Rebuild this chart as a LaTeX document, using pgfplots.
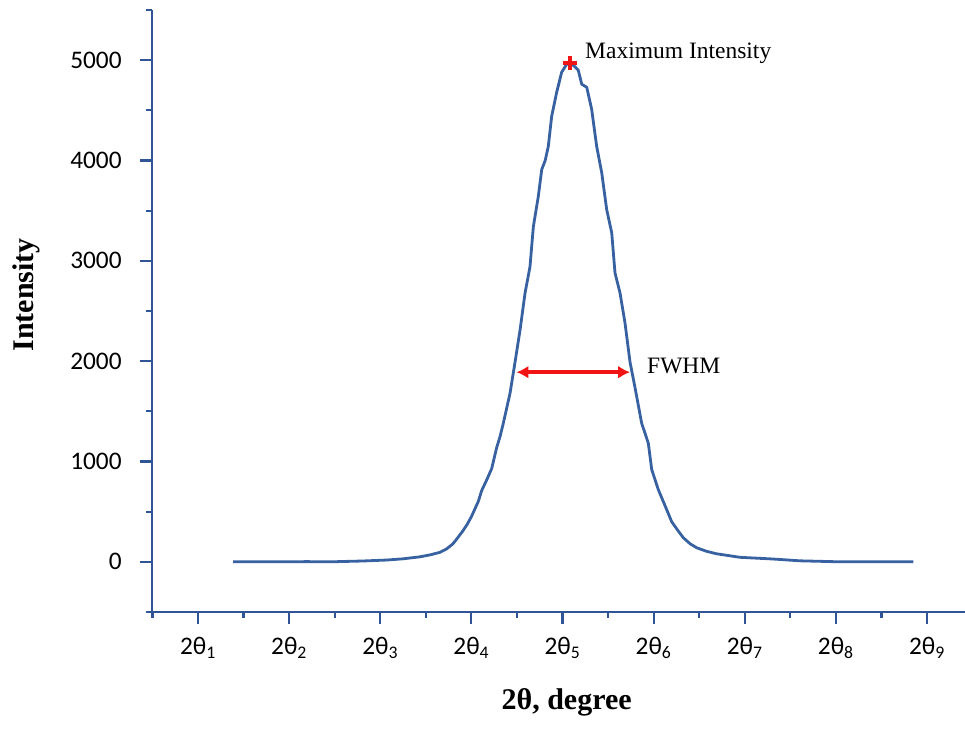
\documentclass[border=0pt]{standalone}
\usepackage{pgfplots}
\pgfplotsset{compat=1.18}
\usepackage{fontspec}
\setmainfont{Carlito}
\newfontfamily\tnr{Liberation Serif}
\newfontfamily\carl{Carlito}
\usetikzlibrary{arrows.meta}
\definecolor{axisblue}{RGB}{47,85,151}
\definecolor{curveblue}{RGB}{55,97,160}
\definecolor{markred}{RGB}{240,20,20}
\newcommand\tl[1]{2θ\textsubscript{#1}}
\begin{document}
\begin{tikzpicture}
\begin{axis}[
  name=ax,
  scale only axis,
  width=813pt, height=602pt,
  xmin=0.495, xmax=9.417,
  ymin=-500, ymax=5500,
  enlargelimits=false,
  axis lines=left,
  axis line style={-, draw=axisblue, line width=2.5pt},
  tick align=outside,
  major tick length=12pt,
  minor tick length=6pt,
  every tick/.style={draw=axisblue, line width=2.2pt},
  xtick={1,2,3,4,5,6,7,8,9},
  xticklabels={\tl{1},\tl{2},\tl{3},\tl{4},\tl{5},\tl{6},\tl{7},\tl{8},\tl{9}},
  minor xtick={0.5,1.5,2.5,3.5,4.5,5.5,6.5,7.5,8.5},
  ytick={0,1000,2000,3000,4000,5000},
  minor ytick={-500,500,1500,2500,3500,4500,5500},
  scaled y ticks=false,
  /pgf/number format/1000 sep={},
  /pgf/number format/assume math mode=true,
  tick label style={font=\carl\fontsize{20}{24}\selectfont, scale=1.265},
  yticklabel style={xshift=-11pt},
  xticklabel style={yshift=-7pt},
  xlabel={\tnr\bfseries 2θ, degree},
  ylabel={\tnr\bfseries Intensity},
  xlabel style={font=\fontsize{30}{36}\selectfont, at={(axis description cs:0.510,-0.150)}, anchor=center},
  ylabel style={font=\fontsize{30}{36}\selectfont, at={(axis description cs:-0.155,0.527)}, anchor=center},
  clip=false,
]
\addplot[curveblue, line width=2.8pt, line join=round] coordinates {
(1.384,0) (1.8,0) (2.2,2) (2.449,0) (2.8,8) (3.074,18) (3.25,30) (3.436,50)
(3.55,70) (3.656,95) (3.73,130) (3.798,180) (3.85,240) (3.90,300) (3.952,370)
(4.00,450) (4.040,530) (4.075,600) (4.113,710) (4.17,820) (4.223,930)
(4.278,1140) (4.315,1250) (4.350,1380) (4.424,1680) (4.479,1990) (4.534,2310)
(4.589,2680) (4.643,2940) (4.680,3340) (4.734,3640) (4.772,3910) (4.810,4000)
(4.844,4140) (4.881,4440) (4.936,4680) (4.991,4880) (5.046,4960) (5.082,4970)
(5.13,4940) (5.173,4900) (5.211,4760) (5.266,4730) (5.320,4510) (5.375,4140)
(5.430,3880) (5.485,3510) (5.540,3280) (5.576,2880) (5.631,2680) (5.686,2380)
(5.741,1990) (5.795,1740) (5.869,1380) (5.910,1270) (5.942,1180) (5.979,920)
(6.051,720) (6.125,560) (6.198,400) (6.26,320) (6.326,240) (6.40,180)
(6.473,140) (6.58,105) (6.692,80) (6.948,45) (7.313,28) (7.606,10)
(8.045,0) (8.5,0) (8.850,0)
};
\addplot[draw=markred, line width=3.6pt, {Latex[length=12pt,width=13pt]}-{Latex[length=12pt,width=13pt]}] coordinates {(4.495,1890) (5.741,1890)};
\addplot[only marks, mark=+, mark size=7pt, draw=markred, mark options={line width=3.6pt}] coordinates {(5.08,4970)};
\node[anchor=base west, inner sep=0pt, font=\tnr\fontsize{23.5}{28}\selectfont] at (axis cs:5.247,5020) {Maximum Intensity};
\node[anchor=base west, inner sep=0pt, font=\tnr\fontsize{23.5}{28}\selectfont] at (axis cs:5.927,1877) {FWHM};
\end{axis}
\pgfresetboundingbox
\path ([xshift=-152pt,yshift=-117pt]ax.south west) rectangle ([yshift=10pt]ax.north east);
\end{tikzpicture}
\end{document}
